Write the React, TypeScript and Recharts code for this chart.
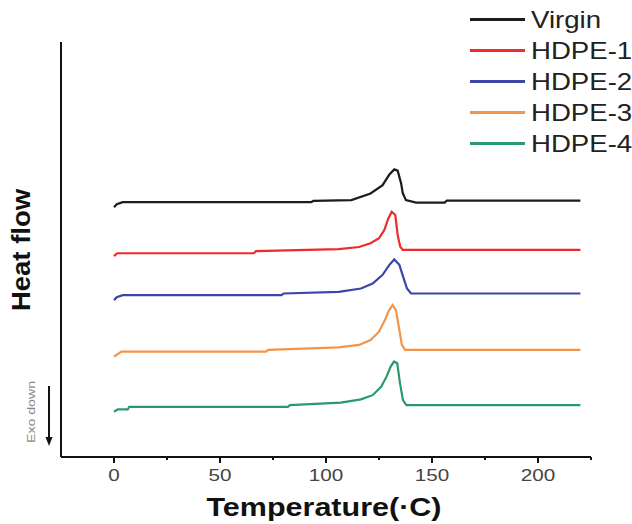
import { LineChart, Line, XAxis, YAxis, Legend } from "recharts"

// temperature (°C) and heat flow (arbitrary units, stacked offsets)
const virginT = [0, 1.3, 4.1, 93, 94, 112, 121, 126.7, 129.8, 132.2, 133.8, 135.4, 136.2, 137.7, 142.5, 156, 157, 220]
const virginHF = [60.2, 60.9, 61.4, 61.4, 61.7, 61.9, 63.5, 65.5, 68, 69.3, 69, 66, 63.6, 61.9, 61.3, 61.3, 61.8, 61.8]

const hdpe1T = [0, 1.5, 66, 67, 106, 115.6, 121, 125, 127.5, 129.4, 131, 132.7, 133.8, 135, 136.2, 220]
const hdpe1HF = [48.4, 49.1, 49.1, 49.6, 50.1, 50.6, 51.5, 52.7, 54.7, 57.5, 59.1, 58.3, 53.5, 50.7, 49.9, 49.9]

const hdpe2T = [0, 1.3, 4.1, 79, 80, 106, 116.5, 122, 126.7, 129.9, 132.2, 134.6, 136.6, 138.2, 140.1, 220]
const hdpe2HF = [37.8, 38.5, 39, 39, 39.4, 39.8, 40.6, 41.8, 43.9, 46.3, 47.6, 46.3, 43.1, 40.6, 39.4, 39.4]

const hdpe3T = [0, 3.5, 71.7, 72.7, 106, 115.6, 121, 125, 127.8, 129.4, 131.4, 133, 134.6, 135.8, 137.3, 220]
const hdpe3HF = [24.2, 25.4, 25.4, 25.8, 26.4, 27, 28.2, 30.2, 33, 35, 36.6, 35.4, 30.6, 27, 25.8, 25.8]

const hdpe4T = [0, 1.8, 6.5, 7.2, 82, 83, 107, 116.5, 122, 126, 128.5, 130.5, 132.1, 133.6, 134.9, 136.3, 137.9, 220]
const hdpe4HF = [10.9, 11.5, 11.5, 12.1, 12.1, 12.5, 13.1, 13.9, 14.9, 16.9, 19.3, 21.8, 23, 22.6, 17.8, 13.7, 12.5, 12.5]

const xTicks = [0, 25, 50, 75, 100, 125, 150, 175, 200, 225]

const series = [
  { name: "Virgin", color: "#1c1c1c", t: virginT, hf: virginHF },
  { name: "HDPE-1", color: "#ee2b2b", t: hdpe1T, hf: hdpe1HF },
  { name: "HDPE-2", color: "#3b46a6", t: hdpe2T, hf: hdpe2HF },
  { name: "HDPE-3", color: "#f2944a", t: hdpe3T, hf: hdpe3HF },
  { name: "HDPE-4", color: "#2a9a6c", t: hdpe4T, hf: hdpe4HF },
]

const FONT = "'Liberation Sans', Arial, sans-serif"

// eslint-disable-next-line @typescript-eslint/no-explicit-any
function TempTick({ x, y, payload }: any) {
  const major = payload.value % 50 === 0
  const s = String(payload.value)
  return (
    <g>
      <line x1={x} x2={x} y1={y} y2={y + (major ? 6 : 3)} stroke="#111" strokeWidth={2} />
      {major && (
        <text
          x={x}
          y={y + 24}
          textAnchor="middle"
          fontSize={17}
          fontFamily={FONT}
          fill="#444"
          textLength={s.length * 11.5}
          lengthAdjust="spacingAndGlyphs"
        >
          {s}
        </text>
      )}
    </g>
  )
}

// legend keeps the plotting order (recharts sorts its payload by name)
function LegendBox() {
  return (
    <div style={{ fontFamily: FONT }}>
      {series.map((s) => (
        <div key={s.name} style={{ height: 31, display: "flex", alignItems: "center" }}>
          <span style={{ display: "inline-block", width: 55, height: 2.5, background: s.color, marginRight: 6 }} />
          <span
            style={{
              fontSize: 24,
              color: "#222",
              transform: "scaleX(1.15)",
              transformOrigin: "left center",
              whiteSpace: "nowrap",
            }}
          >
            {s.name}
          </span>
        </div>
      ))}
    </div>
  )
}

export default function App() {
  return (
    <div style={{ position: "absolute", left: 0, top: 0, width: 632, height: 524, overflow: "hidden", background: "#fff" }}>
      <LineChart width={632} height={524} margin={{ top: 42, right: 41, left: 57, bottom: 37 }}>
        <XAxis
          type="number"
          dataKey="t"
          domain={[-25, 225]}
          ticks={xTicks}
          interval={0}
          allowDataOverflow
          tick={<TempTick />}
          tickLine={false}
          tickSize={0}
          tickMargin={0}
          height={30}
          axisLine={{ stroke: "#111", strokeWidth: 2 }}
        />
        <YAxis
          type="number"
          domain={[0, 100]}
          tick={false}
          tickLine={false}
          width={4}
          axisLine={{ stroke: "#111", strokeWidth: 2 }}
        />
        <Legend
          layout="horizontal"
          verticalAlign="middle"
          align="center"
          content={<LegendBox />}
          wrapperStyle={{ left: 470, top: 4, width: 170, height: 160 }}
        />
        {series.map((s) => (
          <Line
            key={s.name}
            name={s.name}
            data={s.t.map((t, i) => ({ t, hf: s.hf[i] }))}
            dataKey="hf"
            type="linear"
            stroke={s.color}
            strokeWidth={2.2}
            dot={false}
            activeDot={false}
            isAnimationActive={false}
          />
        ))}
      </LineChart>
      <svg
        width={632}
        height={524}
        style={{ position: "absolute", left: 0, top: 0, pointerEvents: "none" }}
      >
        <text
          transform="translate(21 250) rotate(-90)"
          textAnchor="middle"
          dominantBaseline="central"
          fontSize={25}
          fontWeight="bold"
          fontFamily={FONT}
          fill="#111"
          textLength={122}
          lengthAdjust="spacingAndGlyphs"
        >
          Heat flow
        </text>
        <text
          x={324}
          y={516}
          textAnchor="middle"
          fontSize={25}
          fontWeight="bold"
          fontFamily={FONT}
          fill="#111"
          textLength={235}
          lengthAdjust="spacingAndGlyphs"
        >
          Temperature(·C)
        </text>
        <text
          transform="translate(31 412) rotate(-90)"
          textAnchor="middle"
          dominantBaseline="central"
          fontSize={11}
          fontFamily={FONT}
          fill="#888"
          textLength={62}
          lengthAdjust="spacingAndGlyphs"
        >
          Exo down
        </text>
        <line x1={49} x2={49} y1={386} y2={438} stroke="#111" strokeWidth={2} />
        <polygon points="45.5,437 52.5,437 49,446" fill="#111" />
      </svg>
    </div>
  )
}
